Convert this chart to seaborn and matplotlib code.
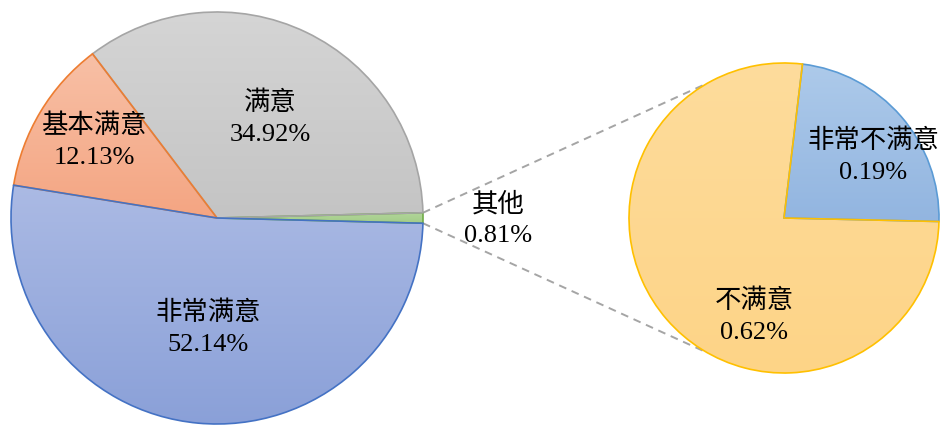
import numpy as np
import matplotlib
matplotlib.use("Agg")
import matplotlib.pyplot as plt
import seaborn as sns
from matplotlib.colors import LinearSegmentedColormap

# data (percent of all answers)
main_labels = ["其他", "满意", "基本满意", "非常满意"]
main_values = [0.81, 34.92, 12.13, 52.14]
sub_labels = ["非常不满意", "不满意"]
sub_values = [0.19, 0.62]

# (top colour, bottom colour, edge colour) for each slice
main_styles = [
    ("#b2d69b", "#a3cc88", "#70ad47"),
    ("#d5d5d5", "#c4c4c4", "#a5a5a5"),
    ("#f8c0a6", "#f4a582", "#ed7d31"),
    ("#abbae4", "#8aa0d8", "#4472c4"),
]
sub_styles = [
    ("#adcaea", "#92b5e0", "#5b9bd5"),
    ("#fedc9c", "#fdd487", "#ffc000"),
]

# label centres in pixels (x, y from top)
main_pos = [(498, 204), (270, 103), (94, 126), (208, 313)]
sub_pos = [(873, 141), (754, 301)]

sns.set_theme(style="white")
plt.rcParams["font.family"] = ["Liberation Serif", "Noto Sans CJK SC"]

W, H = 940, 426
fig = plt.figure(figsize=(W / 100, H / 100), dpi=100)
ax = fig.add_axes([0, 0, 1, 1])

main_c, main_r = (217, H - 218), 206
sub_c, sub_r = (784, H - 218), 155


def grad_fill(w, top, bottom):
    v = w.get_path().vertices
    x0, x1 = v[:, 0].min(), v[:, 0].max()
    y0, y1 = v[:, 1].min(), v[:, 1].max()
    cmap = LinearSegmentedColormap.from_list("g", [bottom, top])
    im = ax.imshow(np.linspace(0, 1, 256).reshape(-1, 1), extent=(x0, x1, y0, y1),
                   origin="lower", cmap=cmap, aspect="auto", zorder=0.5)
    im.set_clip_path(w)
    w.set_facecolor("none")


# main pie, the small "other" slice centred on the horizontal
start = -main_values[0] / sum(main_values) * 360 / 2
wedges, _ = ax.pie(main_values, center=main_c, radius=main_r, startangle=start,
                   counterclock=True, wedgeprops=dict(linewidth=1.2))
for w, (top, bot, edge) in zip(wedges, main_styles):
    w.set_edgecolor(edge)
    w.set_zorder(1)
    grad_fill(w, top, bot)

# second pie for the "other" breakdown
sub_wedges, _ = ax.pie(sub_values, center=sub_c, radius=sub_r, startangle=-1.3,
                       counterclock=True, wedgeprops=dict(linewidth=1.2))
for w, (top, bot, edge) in zip(sub_wedges, sub_styles):
    w.set_edgecolor(edge)
    w.set_zorder(1)
    grad_fill(w, top, bot)

# dashed connectors
for sgn in (1, -1):
    a1 = np.deg2rad(-start) * sgn
    a2 = np.deg2rad(119.5) * sgn
    p1 = (main_c[0] + main_r * np.cos(a1), main_c[1] + main_r * np.sin(a1))
    p2 = (sub_c[0] + sub_r * np.cos(a2), sub_c[1] + sub_r * np.sin(a2))
    ax.plot([p1[0], p2[0]], [p1[1], p2[1]], color="#a5a5a5", lw=1.4,
            ls=(0, (4, 3)), zorder=0.3)

fs = 19
for lab, val, (x, y) in zip(main_labels + sub_labels, main_values + sub_values,
                            main_pos + sub_pos):
    ax.text(x, H - y, lab, ha="center", va="center", fontsize=fs, color="black", zorder=3)
    ax.text(x, H - y - 32, f"{val:.2f}%", ha="center", va="center", fontsize=fs,
            color="black", zorder=3)

ax.set_xlim(0, W)
ax.set_ylim(0, H)
ax.set_aspect("equal")
ax.axis("off")

fig.savefig("out.png", dpi=100, facecolor="white")
